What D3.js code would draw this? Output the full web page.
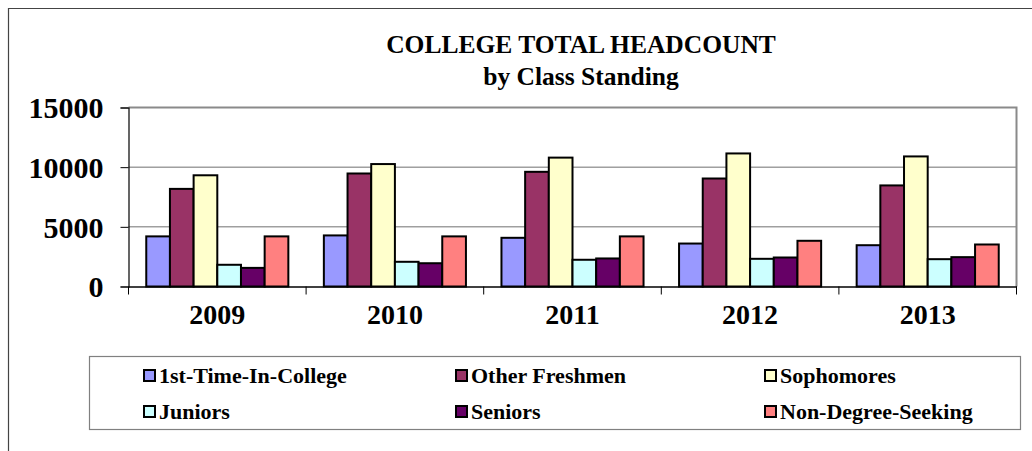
<!DOCTYPE html>
<html><head><meta charset="utf-8">
<script src="https://cdn.jsdelivr.net/npm/d3@7"></script>
<style>body{margin:0;background:#fff}svg{display:block}</style>
</head><body><svg id="c" width="1032" height="451"></svg>
<script>
const years = ["2009","2010","2011","2012","2013"];
const seriesNames = ["1st-Time-In-College","Other Freshmen","Sophomores","Juniors","Seniors","Non-Degree-Seeking"];
const firstTime   = [4200, 4280, 4080, 3600, 3460];
const otherFresh  = [8180, 9470, 9610, 9050, 8470];
const sophomores  = [9320, 10260, 10800, 11150, 10900];
const juniors     = [1820, 2070, 2240, 2320, 2290];
const seniors     = [1560, 1950, 2350, 2430, 2460];
const nonDegree   = [4200, 4200, 4200, 3830, 3520];
const yTicks = [0, 5000, 10000, 15000];
const colors = ["#9999FF","#993366","#FFFFCC","#CCFFFF","#660066","#FF8080"];
const seriesVals = [firstTime, otherFresh, sophomores, juniors, seniors, nonDegree];
const FF = '"Liberation Serif", "Times New Roman", serif';

const svg = d3.select("#c");
svg.append("path").attr("d","M8.5,451 V8.5 H1032").attr("fill","none").attr("stroke","#444").attr("stroke-width",1.2);

const L=128.5, R=1016.5, T=107.5, B=286.5;
const x0 = d3.scaleBand().domain(years).range([L,R]).padding(0);
const x1 = d3.scaleBand().domain(seriesNames).range([0,x0.bandwidth()]).paddingInner(0).paddingOuter(0.75);
const y = d3.scaleLinear().domain([0,15000]).range([B,T]);

svg.append("g").selectAll("line").data(yTicks.filter(d=>d>0 && d<15000)).join("line")
  .attr("x1",L).attr("x2",R).attr("y1",d=>y(d)).attr("y2",d=>y(d)).attr("stroke","#707070").attr("stroke-width",1);
svg.append("path").attr("d",`M${L},${T} H${R} V${B}`).attr("fill","none").attr("stroke","#8a8a8a").attr("stroke-width",2);

const g = svg.append("g");
years.forEach((yr,i)=>{
  seriesNames.forEach((s,j)=>{
    const v = seriesVals[j][i];
    g.append("rect").attr("x",x0(yr)+x1(s)).attr("y",y(v)).attr("width",x1.bandwidth()).attr("height",B-y(v))
      .attr("fill",colors[j]).attr("stroke","#000").attr("stroke-width",2);
  });
});

const ya = svg.append("g").attr("transform",`translate(${L},0)`).call(d3.axisLeft(y).tickValues(yTicks).tickSize(8).tickPadding(17).tickFormat(d3.format("d")));
ya.select(".domain").attr("stroke","#000").attr("stroke-width",1.2);
ya.selectAll(".tick line").attr("stroke","#000");
ya.selectAll("text").attr("font-size",30).attr("font-family",FF).attr("font-weight","bold").attr("fill","#000").attr("dy","0.34em");

const xa = svg.append("g").attr("transform",`translate(0,${B})`).call(d3.axisBottom(x0).tickSize(0).tickPadding(18));
xa.select(".domain").attr("stroke","#000").attr("stroke-width",1.5);
xa.selectAll("text").attr("font-size",28).attr("font-family",FF).attr("font-weight","bold").attr("fill","#000").attr("dy","0.71em");
svg.append("g").selectAll("line").data(years.concat(["end"])).join("line")
  .attr("x1",(d,i)=>i<years.length?x0(d):R).attr("x2",(d,i)=>i<years.length?x0(d):R)
  .attr("y1",B).attr("y2",B+8).attr("stroke","#000").attr("stroke-width",1);

function txt(x,yv,size,s,anchor){
  return svg.append("text").attr("x",x).attr("y",yv).attr("text-anchor",anchor||"start")
    .attr("font-family",FF).attr("font-weight","bold").attr("font-size",size).attr("fill","#000").text(s);
}
txt(581,53,25.5,"COLLEGE TOTAL HEADCOUNT","middle");
txt(581,85,25.5,"by Class Standing","middle");

svg.append("rect").attr("x",89.5).attr("y",356.5).attr("width",931).attr("height",73).attr("fill","#fff").attr("stroke","#808080").attr("stroke-width",1.2);
const colX = [143, 455, 764], rowY = [383, 419];
seriesNames.forEach((s,j)=>{
  const cx = colX[j%3], ry = rowY[Math.floor(j/3)];
  svg.append("rect").attr("x",cx+1).attr("y",ry-13).attr("width",11).attr("height",11).attr("fill",colors[j]).attr("stroke","#000").attr("stroke-width",2);
  txt(cx+16,ry,22,s);
});
</script></body></html>
